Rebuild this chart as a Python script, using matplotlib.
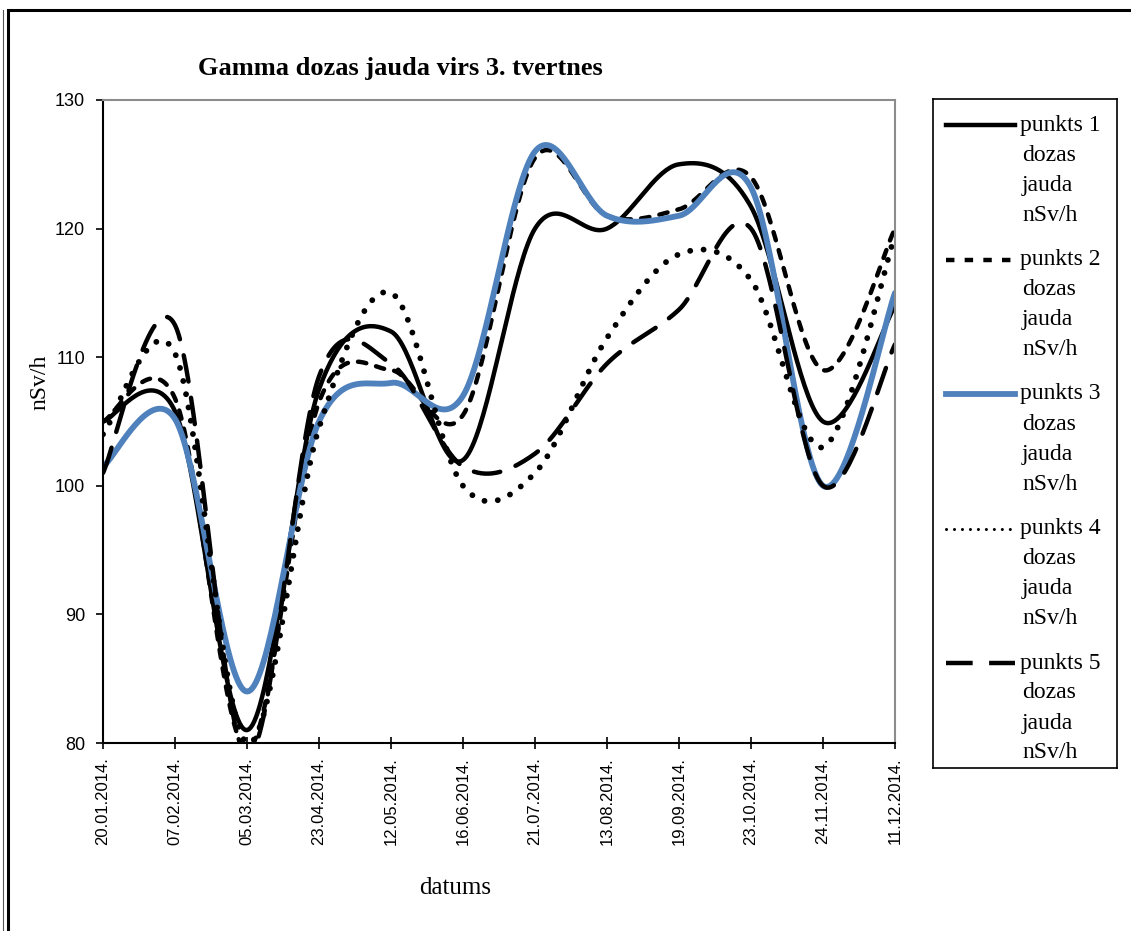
import numpy as np
import matplotlib
matplotlib.use("Agg")
import matplotlib.pyplot as plt
from matplotlib.lines import Line2D
from matplotlib.patches import Rectangle

# dates on the category axis
dates = ['20.01.2014.', '07.02.2014.', '05.03.2014.', '23.04.2014.',
         '12.05.2014.', '16.06.2014.', '21.07.2014.', '13.08.2014.',
         '19.09.2014.', '23.10.2014.', '24.11.2014.', '11.12.2014.']

# dose rate nSv/h
punkts1 = [105.0, 105.8, 81.0, 107.5, 112.0, 102.0, 120.0, 120.0, 125.0, 121.7, 105.0, 114.0]
punkts2 = [105.0, 106.8, 79.5, 106.5, 109.0, 105.5, 125.5, 121.0, 121.5, 124.0, 109.0, 120.0]
punkts3 = [101.5, 105.2, 84.0, 105.0, 108.0, 107.0, 126.0, 121.0, 121.0, 123.2, 100.0, 115.0]
punkts4 = [104.0, 110.3, 80.0, 104.5, 115.0, 100.0, 101.0, 111.5, 118.0, 116.0, 103.0, 119.5]
punkts5 = [101.0, 112.5, 79.0, 108.5, 109.5, 101.5, 102.5, 109.5, 113.7, 120.0, 100.0, 111.0]

labels = ['punkts 1', 'punkts 2', 'punkts 3', 'punkts 4', 'punkts 5']
series = [punkts1, punkts2, punkts3, punkts4, punkts5]

BLUE = '#4F81BD'
styles = [
    dict(color='black', lw=3.2, ls='-'),
    dict(color='black', lw=3.2, ls=(0, (1.9, 2.3))),
    dict(color=BLUE, lw=4.2, ls='-'),
    dict(color='black', lw=4.2, ls=(0, (0.01, 2.3))),
    dict(color='black', lw=3.2, ls=(0, (6.0, 3.7))),
]


def smooth(x, y, n=40):
    """excel like smoothed line: bezier through the points, tension 1/6"""
    p = np.column_stack([x, y]).astype(float)
    pts = np.vstack([p[0], p, p[-1]])
    t = np.linspace(0, 1, n)[:, None]
    out = []
    for i in range(1, len(pts) - 2):
        p0, p1 = pts[i], pts[i + 1]
        c0 = p0 + (pts[i + 1] - pts[i - 1]) / 6.0
        c1 = p1 - (pts[i + 2] - pts[i]) / 6.0
        seg = ((1 - t) ** 3) * p0 + 3 * ((1 - t) ** 2) * t * c0 + 3 * (1 - t) * t ** 2 * c1 + t ** 3 * p1
        out.append(seg if i == 1 else seg[1:])
    out = np.vstack(out)
    return out[:, 0], out[:, 1]


W, H = 1131, 931
fig = plt.figure(figsize=(W / 100, H / 100), dpi=100)


def px_box(x0, y0, x1, y1):
    return [x0 / W, 1 - y1 / H, (x1 - x0) / W, (y1 - y0) / H]


ax = fig.add_axes(px_box(103, 100, 895, 743))
x = np.arange(len(dates))
for vals, st in zip(series, styles):
    sx, sy = smooth(x, vals)
    ax.plot(sx, sy, color=st['color'], lw=st['lw'], linestyle=st['ls'],
            dash_capstyle='round', solid_capstyle='round')

ax.set_xlim(0, len(dates) - 1)
ax.set_ylim(80, 130)
ax.set_yticks([80, 90, 100, 110, 120, 130])
ax.set_xticks(x)
ax.set_xticklabels(dates, rotation=90, family='Liberation Sans', fontsize=12)
for lab in ax.get_yticklabels():
    lab.set_family('Liberation Sans')
    lab.set_fontsize(13)
ax.tick_params(axis='y', direction='out', length=5, width=1.2, pad=8)
ax.tick_params(axis='x', direction='inout', length=9, width=1.2, pad=6)
for side in ['left', 'bottom']:
    ax.spines[side].set_color('black')
    ax.spines[side].set_linewidth(1.5)
for side in ['top', 'right']:
    ax.spines[side].set_color('#8c8c8c')
    ax.spines[side].set_linewidth(1.5)

fig.text(198 / W, 1 - 68 / H, 'Gamma dozas jauda virs 3. tvertnes',
         family='Liberation Serif', fontweight='bold', fontsize=19,
         ha='left', va='center')
fig.text(40 / W, 1 - 382 / H, 'nSv/h', family='Liberation Serif', fontsize=17,
         rotation=90, ha='center', va='center')
fig.text(455 / W, 1 - 888 / H, 'datums', family='Liberation Serif', fontsize=18,
         ha='center', va='center')

# legend drawn in pixel units
lg = fig.add_axes(px_box(933, 99, 1117, 768))
lg.set_xlim(933, 1117)
lg.set_ylim(768, 99)
lg.set_xticks([])
lg.set_yticks([])
for s in lg.spines.values():
    s.set_linewidth(1.2)
    s.set_color('black')
entry_y = [125, 259.5, 394, 528.5, 663]
for i, (lab, st, yy) in enumerate(zip(labels, styles, entry_y)):
    cap = 'round' if i == 3 else 'butt'
    lw = 2.2 if i == 3 else st['lw']
    ls = (0, (0.01, 2.6)) if i == 3 else st['ls']
    lg.add_line(Line2D([946, 1015], [yy, yy], color=st['color'], lw=lw,
                       linestyle=ls, dash_capstyle=cap))
    lg.text(1020, yy, lab, family='Liberation Serif', fontsize=17, va='center', ha='left')
    for k, word in enumerate(['dozas', 'jauda', 'nSv/h']):
        lg.text(1022, yy + 30 * (k + 1), word, family='Liberation Serif', fontsize=17,
                va='center', ha='left')

# outer chart frame
fig.add_artist(Rectangle((8 / W, -0.05), 1.2, 1 - 10 / H + 0.05, transform=fig.transFigure,
                         fill=False, edgecolor='black', lw=2.2))
fig.add_artist(Line2D([3 / W, 3 / W], [0, 1 - 10 / H], transform=fig.transFigure,
                      color='#555555', lw=0.8))

fig.savefig('out.png', dpi=100)
